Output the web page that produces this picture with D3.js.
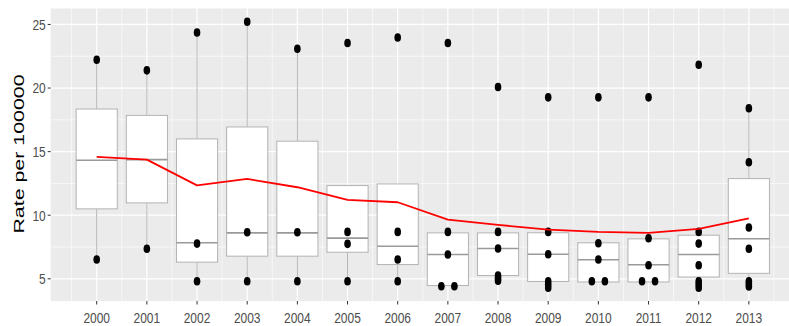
<!DOCTYPE html>
<html>
<head>
<meta charset="utf-8">
<script src="https://cdn.jsdelivr.net/npm/d3@7"></script>
<style>
  html, body { margin: 0; padding: 0; background: #ffffff; }
  svg { display: block; }
  text { font-family: "Liberation Sans", Arial, Helvetica, sans-serif; }
</style>
</head>
<body>
<svg id="chart" width="789" height="326"></svg>
<script>
// Yearly rate distributions (per 100000)
const years = [2000, 2001, 2002, 2003, 2004, 2005, 2006, 2007, 2008, 2009, 2010, 2011, 2012, 2013];
const whiskerLow  = [6.52, 7.36, 4.81, 4.81, 4.81, 4.81, 4.81, 4.42, 4.81, 4.30, 4.75, 4.75, 4.30, 4.40];
const quartile1   = [10.50, 10.97, 6.31, 6.78, 6.78, 7.09, 6.12, 4.47, 5.26, 4.79, 4.75, 4.75, 5.14, 5.43];
const medians     = [14.32, 14.37, 7.83, 8.61, 8.61, 8.20, 7.56, 6.91, 7.38, 6.93, 6.50, 6.10, 6.91, 8.15];
const quartile3   = [18.35, 17.85, 16.00, 16.94, 15.82, 12.33, 12.46, 8.61, 8.61, 8.62, 7.83, 8.14, 8.43, 12.88];
const whiskerHigh = [22.23, 21.39, 24.37, 25.21, 23.09, 12.33, 12.46, 8.69, 8.69, 8.69, 7.83, 8.19, 8.69, 18.41];
// Mean rate per year (red trend line)
const meanRates   = [14.58, 14.37, 12.35, 12.85, 12.20, 11.20, 11.02, 9.66, 9.24, 8.87, 8.69, 8.61, 8.93, 9.76];
// Individual observed rates per year
const observedRates = [
  [22.23, 6.52],
  [21.39, 7.36],
  [24.37, 7.77, 4.81],
  [25.21, 8.66, 4.81],
  [23.09, 8.66, 4.81],
  [23.54, 8.69, 7.75, 4.81],
  [23.98, 8.69, 6.52, 4.81],
  [23.54, 8.69, 6.91, 4.42, 4.42],
  [20.08, 8.69, 7.38, 5.26, 5.05, 4.85],
  [19.27, 8.69, 6.93, 4.81, 4.55, 4.30],
  [19.27, 7.80, 6.52, 4.81, 4.81],
  [19.27, 8.19, 6.07, 4.81, 4.81],
  [21.83, 8.69, 7.77, 6.07, 4.81, 4.55, 4.30],
  [18.41, 14.16, 9.03, 7.36, 4.81, 4.60, 4.40]
];
const yTicks = [5, 10, 15, 20, 25];
const yTitle = "Rate per 100000";

const svg = d3.select("#chart");
const panel = { left: 50.7, right: 789, top: 8.5, bottom: 301 };
const stretch = 1.26; // glyphs are drawn taller than wide

// Continuous year axis with room around the outer boxes
const x = d3.scaleLinear().domain([1999.083, 2013.80]).range([panel.left, panel.right]);
const allVals = observedRates.flat().concat(whiskerLow, whiskerHigh);
const yMin = d3.min(allVals), yMax = d3.max(allVals);
const pad = (yMax - yMin) * 0.05;
const y = d3.scaleLinear().domain([yMin - pad, yMax + pad]).range([panel.bottom, panel.top]);

// Panel background
svg.append("rect")
  .attr("x", panel.left).attr("y", panel.top)
  .attr("width", panel.right - panel.left).attr("height", panel.bottom - panel.top)
  .attr("fill", "#ebebeb");

const grid = svg.append("g");
// Minor grid
const yMinor = [7.5, 12.5, 17.5, 22.5];
grid.selectAll("line.ym").data(yMinor).enter().append("line")
  .attr("x1", panel.left).attr("x2", panel.right)
  .attr("y1", d => y(d)).attr("y2", d => y(d))
  .attr("stroke", "#ffffff").attr("stroke-width", 0.6);
const xMinor = years.map(v => v - 0.5).concat([years[years.length - 1] + 0.5]);
grid.selectAll("line.xm").data(xMinor).enter().append("line")
  .attr("y1", panel.top).attr("y2", panel.bottom)
  .attr("x1", d => x(d)).attr("x2", d => x(d))
  .attr("stroke", "#ffffff").attr("stroke-width", 0.6);
// Major grid
grid.selectAll("line.yM").data(yTicks).enter().append("line")
  .attr("x1", panel.left).attr("x2", panel.right)
  .attr("y1", d => y(d)).attr("y2", d => y(d))
  .attr("stroke", "#ffffff").attr("stroke-width", 1.2);
grid.selectAll("line.xM").data(years).enter().append("line")
  .attr("y1", panel.top).attr("y2", panel.bottom)
  .attr("x1", d => x(d)).attr("x2", d => x(d))
  .attr("stroke", "#ffffff").attr("stroke-width", 1.2);

// Boxplots
const boxW = 0.82;
const boxes = years.map((yr, i) => ({
  yr, lo: whiskerLow[i], q1: quartile1[i], med: medians[i], q3: quartile3[i], hi: whiskerHigh[i]
}));
const bg = svg.append("g");
const boxStroke = "#b3b3b3";
bg.selectAll("line.wu").data(boxes).enter().append("line")
  .attr("x1", d => x(d.yr)).attr("x2", d => x(d.yr))
  .attr("y1", d => y(d.q3)).attr("y2", d => y(d.hi))
  .attr("stroke", boxStroke).attr("stroke-width", 1);
bg.selectAll("line.wl").data(boxes).enter().append("line")
  .attr("x1", d => x(d.yr)).attr("x2", d => x(d.yr))
  .attr("y1", d => y(d.q1)).attr("y2", d => y(d.lo))
  .attr("stroke", boxStroke).attr("stroke-width", 1);
bg.selectAll("rect.box").data(boxes).enter().append("rect")
  .attr("x", d => x(d.yr - boxW / 2))
  .attr("width", d => x(d.yr + boxW / 2) - x(d.yr - boxW / 2))
  .attr("y", d => y(d.q3))
  .attr("height", d => y(d.q1) - y(d.q3))
  .attr("fill", "#ffffff").attr("stroke", boxStroke).attr("stroke-width", 1);
bg.selectAll("line.med").data(boxes).enter().append("line")
  .attr("x1", d => x(d.yr - boxW / 2)).attr("x2", d => x(d.yr + boxW / 2))
  .attr("y1", d => y(d.med)).attr("y2", d => y(d.med))
  .attr("stroke", "#9a9a9a").attr("stroke-width", 1.6);

// Observed points; identical values in one year sit side by side
const dodge = 0.13;
const pts = [];
years.forEach((yr, i) => {
  const counts = d3.rollup(observedRates[i], v => v.length, v => v);
  const seen = new Map();
  observedRates[i].forEach(v => {
    const n = counts.get(v);
    const k = seen.get(v) || 0;
    seen.set(v, k + 1);
    const off = n > 1 ? (k - (n - 1) / 2) * 2 * dodge : 0;
    pts.push({ xv: yr + off, v });
  });
});
svg.append("g").selectAll("ellipse").data(pts).enter().append("ellipse")
  .attr("cx", d => x(d.xv)).attr("cy", d => y(d.v))
  .attr("rx", 3.3).attr("ry", 4.3)
  .attr("fill", "#000000");

// Mean line
const line = d3.line().x((d, i) => x(years[i])).y(d => y(d));
svg.append("path").datum(meanRates)
  .attr("d", line)
  .attr("fill", "none").attr("stroke", "#ff0000").attr("stroke-width", 1.8)
  .attr("stroke-linejoin", "round");

// Axes
const tickColor = "#333333";
const labelColor = "#4d4d4d";
const ax = svg.append("g");
ax.selectAll("line.yt").data(yTicks).enter().append("line")
  .attr("x1", panel.left - 3).attr("x2", panel.left)
  .attr("y1", d => y(d)).attr("y2", d => y(d))
  .attr("stroke", tickColor).attr("stroke-width", 1);
ax.selectAll("text.yl").data(yTicks).enter().append("text")
  .attr("transform", d => `translate(${panel.left - 5},${y(d)}) scale(1,${stretch})`)
  .attr("text-anchor", "end").attr("dy", "0.35em")
  .attr("font-size", 12).attr("fill", labelColor)
  .text(d => d);
ax.selectAll("line.xt").data(years).enter().append("line")
  .attr("x1", d => x(d)).attr("x2", d => x(d))
  .attr("y1", panel.bottom).attr("y2", panel.bottom + 3.5)
  .attr("stroke", tickColor).attr("stroke-width", 1);
ax.selectAll("text.xl").data(years).enter().append("text")
  .attr("transform", d => `translate(${x(d)},${panel.bottom + 17}) scale(1,${stretch})`)
  .attr("text-anchor", "middle").attr("dy", "0.35em")
  .attr("font-size", 12).attr("fill", labelColor)
  .text(d => d);

// Y axis title, stretched along its length like the rest of the lettering
svg.append("text")
  .attr("transform", `translate(19,154) scale(1,1.55) rotate(-90)`)
  .attr("text-anchor", "middle").attr("dy", "0.35em")
  .attr("font-size", 13.8).attr("fill", "#000000")
  .text(yTitle);
</script>
</body>
</html>
